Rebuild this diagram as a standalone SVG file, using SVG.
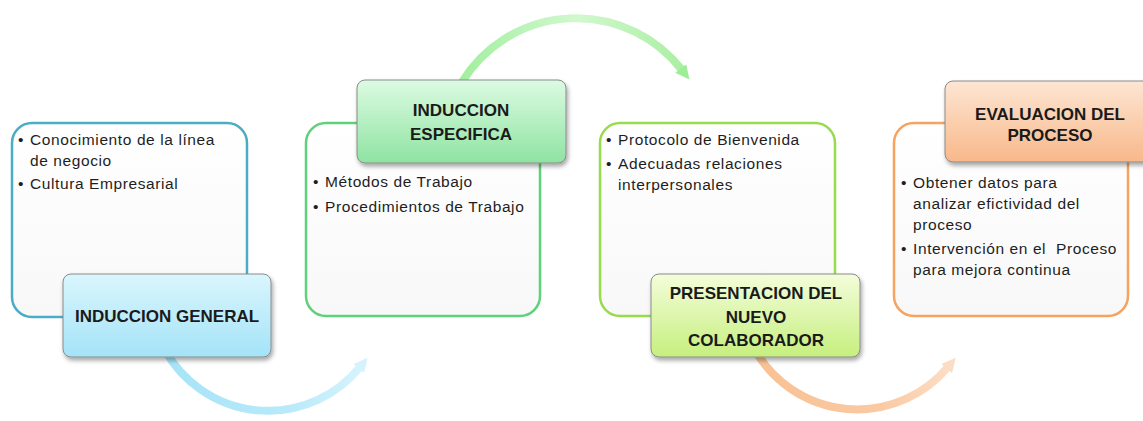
<svg xmlns="http://www.w3.org/2000/svg" width="1143" height="421" viewBox="0 0 1143 421">
<defs>
<style>
.box{stroke-width:2.5;fill:url(#gBox)}
.title{stroke:#8a8a8a;stroke-width:1;filter:url(#sh)}
.tt{font-family:"Liberation Sans",Arial,sans-serif;font-weight:bold;font-size:17px;fill:#1a1a1a;text-anchor:middle}
.bt{font-family:"Liberation Sans",Arial,sans-serif;font-size:15.5px;fill:#1e1e1e;letter-spacing:0.6px}
.arc{fill:none;stroke-width:8;stroke-linecap:butt}
</style>
<filter id="sh" x="-10%" y="-10%" width="130%" height="140%">
<feDropShadow dx="1.5" dy="3" stdDeviation="2" flood-color="#000" flood-opacity="0.35"/>
</filter>
<linearGradient id="gBox" x1="0" y1="0" x2="0" y2="1">
<stop offset="0" stop-color="#ffffff"/><stop offset="1" stop-color="#f8f8f8"/>
</linearGradient>
<linearGradient id="gT1" x1="0" y1="0" x2="0" y2="1">
<stop offset="0" stop-color="#daf6fd"/><stop offset="1" stop-color="#a4e3f8"/>
</linearGradient>
<linearGradient id="gT2" x1="0" y1="0" x2="0" y2="1">
<stop offset="0" stop-color="#dcfbe2"/><stop offset="1" stop-color="#8fe3a2"/>
</linearGradient>
<linearGradient id="gT3" x1="0" y1="0" x2="0" y2="1">
<stop offset="0" stop-color="#f4fddb"/><stop offset="1" stop-color="#c6ef7e"/>
</linearGradient>
<linearGradient id="gT4" x1="0" y1="0" x2="0" y2="1">
<stop offset="0" stop-color="#fde6d3"/><stop offset="1" stop-color="#f8b88a"/>
</linearGradient>
<linearGradient id="gA1" gradientUnits="userSpaceOnUse" x1="160" y1="0" x2="375" y2="0">
<stop offset="0" stop-color="#a6e3f7"/><stop offset="0.6" stop-color="#b8eafa"/><stop offset="1" stop-color="#dcf5fd"/>
</linearGradient>
<linearGradient id="gA2" gradientUnits="userSpaceOnUse" x1="460" y1="0" x2="695" y2="0">
<stop offset="0" stop-color="#a2ef9e"/><stop offset="0.5" stop-color="#d2f8cf"/><stop offset="1" stop-color="#a6ee9e"/>
</linearGradient>
<linearGradient id="gA3" gradientUnits="userSpaceOnUse" x1="750" y1="0" x2="965" y2="0">
<stop offset="0" stop-color="#f8c194"/><stop offset="0.6" stop-color="#fac9a2"/><stop offset="1" stop-color="#fde2cc"/>
</linearGradient>
<marker id="m1" markerUnits="userSpaceOnUse" markerWidth="20" markerHeight="20" refX="2" refY="8" orient="auto">
<path d="M0,1 L14,8 L0,15 Z" fill="#d6f3fd"/>
</marker>
<marker id="m2" markerUnits="userSpaceOnUse" markerWidth="20" markerHeight="20" refX="2" refY="8" orient="auto">
<path d="M0,1 L14,8 L0,15 Z" fill="#9eee98"/>
</marker>
<marker id="m3" markerUnits="userSpaceOnUse" markerWidth="20" markerHeight="20" refX="2" refY="8" orient="auto">
<path d="M0,1 L14,8 L0,15 Z" fill="#fbdcc4"/>
</marker>
</defs>
<rect width="1143" height="421" fill="#ffffff"/>
<g id="connectors">
<path class="arc" d="M 165 350 A 118 118 0 0 0 360 367" stroke="url(#gA1)" marker-end="url(#m1)"/>
<path class="arc" d="M 462 82 A 134 134 0 0 1 682 70" stroke="url(#gA2)" marker-end="url(#m2)"/>
<path class="arc" d="M 755 350 A 118 118 0 0 0 948 367" stroke="url(#gA3)" marker-end="url(#m3)"/>
</g>
<g id="node-induccion-general">
<rect class="box" x="12" y="123" width="235" height="194" rx="20" stroke="#4bacc6"/>
<text class="bt" x="18" y="145">•</text>
<text class="bt" x="30" y="145">Conocimiento de la línea</text>
<text class="bt" x="30" y="166">de negocio</text>
<text class="bt" x="18" y="189">•</text>
<text class="bt" x="30" y="189">Cultura Empresarial</text>
<rect class="title" x="63" y="274" width="208" height="83" rx="8" fill="url(#gT1)"/>
<text class="tt" x="167" y="322">INDUCCION GENERAL</text>
</g>
<g id="node-induccion-especifica">
<rect class="box" x="306" y="123" width="234" height="193" rx="20" stroke="#5fd17a"/>
<text class="bt" x="313" y="187">•</text>
<text class="bt" x="325" y="187">Métodos de Trabajo</text>
<text class="bt" x="313" y="212">•</text>
<text class="bt" x="325" y="212">Procedimientos de Trabajo</text>
<rect class="title" x="357" y="80" width="209" height="83" rx="8" fill="url(#gT2)"/>
<text class="tt" x="461" y="116">INDUCCION</text>
<text class="tt" x="461" y="140">ESPECIFICA</text>
</g>
<g id="node-presentacion">
<rect class="box" x="600" y="123" width="235" height="193" rx="20" stroke="#98dc4e"/>
<text class="bt" x="606" y="145">•</text>
<text class="bt" x="618" y="145">Protocolo de Bienvenida</text>
<text class="bt" x="606" y="169">•</text>
<text class="bt" x="618" y="169">Adecuadas relaciones</text>
<text class="bt" x="618" y="190">interpersonales</text>
<rect class="title" x="651" y="274" width="209" height="83" rx="8" fill="url(#gT3)"/>
<text class="tt" x="756" y="299">PRESENTACION DEL</text>
<text class="tt" x="756" y="323">NUEVO</text>
<text class="tt" x="756" y="346">COLABORADOR</text>
</g>
<g id="node-evaluacion">
<rect class="box" x="894" y="123" width="234" height="193" rx="20" stroke="#f7a25e"/>
<text class="bt" x="901" y="188">•</text>
<text class="bt" x="913" y="188">Obtener datos para</text>
<text class="bt" x="913" y="209">analizar efictividad del</text>
<text class="bt" x="913" y="230">proceso</text>
<text class="bt" x="901" y="254">•</text>
<text class="bt" x="913" y="254" style="white-space:pre">Intervención en el  Proceso</text>
<text class="bt" x="913" y="275">para mejora continua</text>
<rect class="title" x="945" y="81" width="215" height="81" rx="8" fill="url(#gT4)"/>
<text class="tt" x="1050" y="120">EVALUACION DEL</text>
<text class="tt" x="1050" y="141">PROCESO</text>
</g>
</svg>
